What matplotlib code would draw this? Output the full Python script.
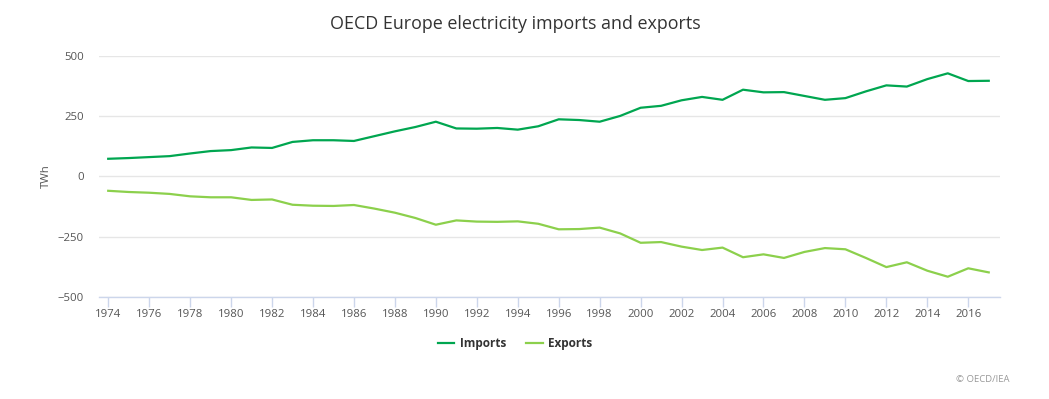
import matplotlib
matplotlib.use("Agg")
import matplotlib.pyplot as plt

plt.rcParams['font.family'] = ['Open Sans', 'DejaVu Sans']

years = list(range(1974, 2018))
imports = [73, 76, 80, 84, 95, 105, 109, 120, 118, 143, 150, 150, 147, 167, 187, 205,
           227, 199, 198, 201, 194, 208, 237, 234, 227, 251, 285, 293, 316, 330, 318,
           360, 349, 350, 334, 318, 325, 353, 378, 373, 404, 428, 396, 397]
exports = [-60, -65, -68, -73, -83, -87, -87, -98, -96, -118, -122, -123, -119, -134, -151, -173,
           -201, -183, -188, -189, -187, -197, -220, -219, -213, -237, -276, -273, -292, -306, -296,
           -336, -324, -339, -314, -298, -303, -339, -377, -357, -392, -417, -382, -399]
yticks = [-500, -250, 0, 250, 500]
ytick_labels = ["\u2212500", "\u2212250", "0", "250", "500"]
xticks = list(range(1974, 2017, 2))

W, H = 1049, 399
fig = plt.figure(figsize=(W / 100, H / 100), dpi=100)
ax = fig.add_axes([99 / W, 1 - 296.7 / H, (1000 - 99) / W, (296.7 - 56) / H])

imp_color = "#00a650"
exp_color = "#8cd04c"
ax.plot(years, imports, color=imp_color, lw=1.6, label="Imports", solid_joinstyle="round")
ax.plot(years, exports, color=exp_color, lw=1.6, label="Exports", solid_joinstyle="round")

ax.set_xlim(1973.55, 2017.55)
ax.set_ylim(-500, 500)
ax.set_yticks(yticks)
ax.set_yticklabels(ytick_labels)
ax.set_xticks(xticks)
ax.set_xticklabels([str(x) for x in xticks])

ax.grid(axis="y", color="#e6e6e6", lw=1)
ax.set_axisbelow(True)
for s in ["top", "right", "left"]:
    ax.spines[s].set_visible(False)
ax.spines["bottom"].set_color("#ccd6eb")
ax.spines["bottom"].set_linewidth(1)
ax.tick_params(axis="x", length=7, width=1, color="#ccd6eb", labelsize=8.2,
               labelcolor="#555555", pad=2)
ax.tick_params(axis="y", length=0, labelsize=8.2, labelcolor="#555555", pad=11)

ax.set_ylabel("TWh", fontsize=8.2, color="#555555", labelpad=4)

fig.text(515 / W, 1 - 24 / H, "OECD Europe electricity imports and exports",
         ha="center", va="center", fontsize=12.9, color="#333333")

leg = fig.legend(loc="center", bbox_to_anchor=(515 / W, 1 - 344 / H), ncol=2,
                 frameon=False, handlelength=1.4, columnspacing=1.7, handletextpad=0.45,
                 prop={"size": 8.5, "weight": "bold"})
for t in leg.get_texts():
    t.set_color("#333333")

fig.text(1010 / W, 1 - 380 / H, "\u00a9 OECD/IEA", ha="right", va="center",
         fontsize=6.8, color="#999999")

fig.savefig("out.png", dpi=100)
